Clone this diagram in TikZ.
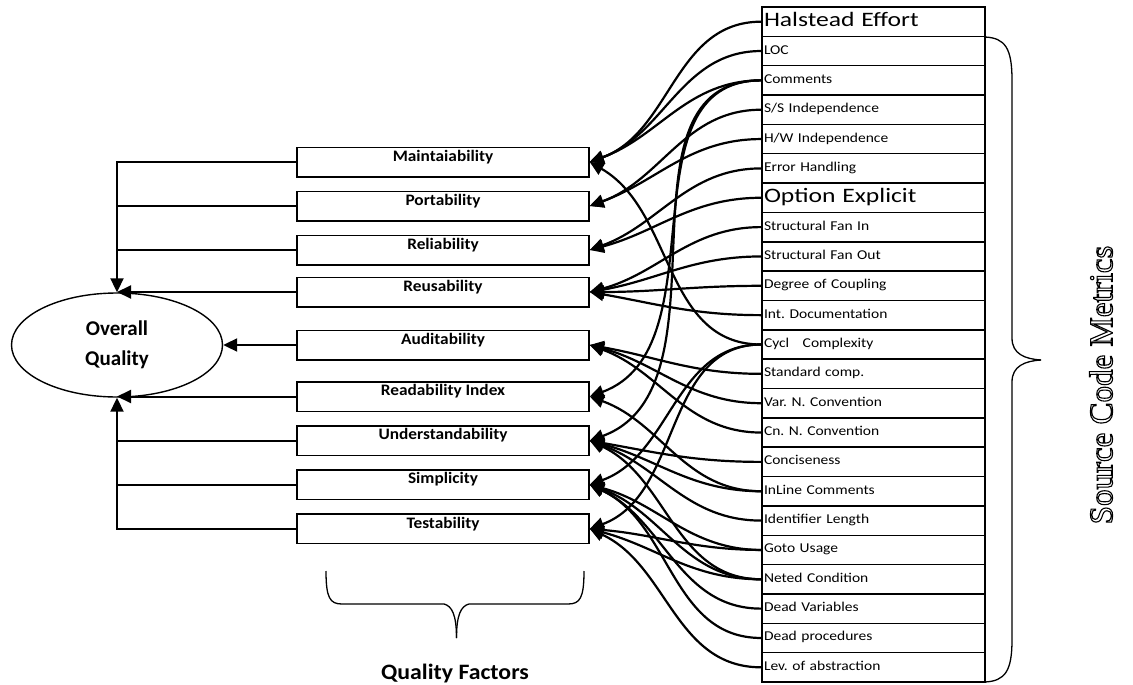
\documentclass[tikz,border=0pt]{standalone}
\usepackage{fontspec}
\setmainfont{Carlito}
\newfontfamily\mfontA[FakeStretch=1.15]{Carlito}
\newfontfamily\mfontB[FakeStretch=1.25]{Carlito}
\newfontfamily\ffont[FakeStretch=1.08]{Carlito}
\newfontfamily\scmfont{Liberation Serif}
\frenchspacing
\usetikzlibrary{arrows.meta,shapes.geometric,calc}
\begin{document}
\begin{tikzpicture}[x=1pt,y=1pt,
  mbox/.style={draw, line width=1.5pt, minimum width=223pt, minimum height=29.35pt, inner sep=0pt, text width=219pt, align=left},
  msmall/.style={font=\mfontA\fontsize{13.5}{15}\selectfont, text height=9pt, text depth=3pt},
  mbig/.style={font=\mfontB\fontsize{20.5}{22}\selectfont, text height=13pt, text depth=4pt},
  fbox/.style={draw, line width=1.5pt, minimum width=292pt, minimum height=29.5pt, inner sep=0pt, font=\ffont\bfseries\fontsize{16}{18}\selectfont, text height=14pt, text depth=15.5pt},
  conn/.style={line width=2.2pt, -{Triangle[length=14pt,width=13pt]}, out=180},
  lline/.style={line width=2pt},
  larrow/.style={line width=2pt, -{Triangle[length=14pt,width=13pt]}},
  bracestyle/.style={line width=1.3pt}
]
\useasboundingbox (0,0) rectangle (1133,-685);

% metrics column
\foreach \t/\s [count=\i] in {{Halstead Effort}/mbig, {LOC}/msmall, {Comments}/msmall, {S/S Independence}/msmall, {H/W Independence}/msmall, {Error Handling}/msmall, {Option Explicit}/mbig, {Structural Fan In}/msmall, {Structural Fan Out}/msmall, {Degree of Coupling}/msmall, {Int. Documentation}/msmall, {Cycl\ \ \ Complexity}/msmall, {Standard comp.}/msmall, {Var. N. Convention}/msmall, {Cn. N. Convention}/msmall, {Conciseness}/msmall, {InLine Comments}/msmall, {Identifier Length}/msmall, {Goto Usage}/msmall, {Neted Condition}/msmall, {Dead Variables}/msmall, {Dead procedures}/msmall, {Lev. of abstraction}/msmall}
  \node[mbox,\s] (m\i) at (873.5,{-7-29.3478*(\i-0.5)}) {\t};

% factor boxes
\node[fbox] (f1) at (443,-162) {Maintaiability};
\node[fbox] (f2) at (443,-206) {Portability};
\node[fbox] (f3) at (443,-250) {Reliability};
\node[fbox] (f4) at (443,-292) {Reusability};
\node[fbox] (f5) at (443,-345) {Auditability};
\node[fbox] (f6) at (443,-396.5) {Readability Index};
\node[fbox] (f7) at (443,-440.7) {Understandability};
\node[fbox] (f8) at (443,-484.7) {Simplicity};
\node[fbox] (f9) at (443,-528.8) {Testability};

% overall quality
\node[draw, ellipse, line width=1.4pt, minimum width=211pt, minimum height=104pt, inner sep=0pt, align=center, font=\bfseries\fontsize{21}{30}\selectfont] (oq) at (117,-345) {Overall\\Quality};

% left connectors
\draw[larrow] (f1.west) -- (f1.west -| oq.north) -- (oq.north);
\draw[lline] (f2.west) -- (f2.west -| oq.north);
\draw[lline] (f3.west) -- (f3.west -| oq.north);
\draw[larrow] (f4.west) -- (f4.west -| oq.north);
\draw[larrow] (f5.west) -- (oq.east);
\draw[larrow] (f6.west) -- (f6.west -| oq.south);
\draw[lline] (f7.west) -- (f7.west -| oq.south);
\draw[lline] (f8.west) -- (f8.west -| oq.south);
\draw[larrow] (f9.west) -- (f9.west -| oq.south) -- (oq.south);

% metric -> factor curves
\draw[conn] (m1.west) to[in=20] (f1.east);
\draw[conn] (m2.west) to[in=20] (f1.east);
\draw[conn] (m3.west) to[in=20] (f1.east);
\draw[conn] (m12.west) to[in=-30] (f1.east);
\draw[conn] (m4.west) to[in=20] (f2.east);
\draw[conn] (m5.west) to[in=20] (f2.east);
\draw[conn] (m6.west) to[in=20] (f3.east);
\draw[conn] (m7.west) to[in=15] (f3.east);
\draw[conn] (m8.west) to[in=15] (f4.east);
\draw[conn] (m9.west) to[in=10] (f4.east);
\draw[conn] (m10.west) to[in=0] (f4.east);
\draw[conn] (m11.west) to[in=-10] (f4.east);
\draw[conn] (m13.west) to[in=-10] (f5.east);
\draw[conn] (m14.west) to[in=-15] (f5.east);
\draw[conn] (m15.west) to[in=-20] (f5.east);
\draw[conn] (m3.west) to[in=20] (f6.east);
\draw[conn] (m17.west) to[in=-20] (f6.east);
\draw[conn] (m3.west) to[in=20] (f7.east);
\draw[conn] (m16.west) to[in=-10] (f7.east);
\draw[conn] (m17.west) to[in=-15] (f7.east);
\draw[conn] (m18.west) to[in=-20] (f7.east);
\draw[conn] (m20.west) to[in=-25] (f7.east);
\draw[conn] (m12.west) to[in=20] (f8.east);
\draw[conn] (m19.west) to[in=-15] (f8.east);
\draw[conn] (m20.west) to[in=-20] (f8.east);
\draw[conn] (m21.west) to[in=-25] (f8.east);
\draw[conn] (m22.west) to[in=-25] (f8.east);
\draw[conn] (m12.west) to[in=20] (f9.east);
\draw[conn] (m19.west) to[in=-5] (f9.east);
\draw[conn] (m20.west) to[in=-15] (f9.east);
\draw[conn] (m23.west) to[in=-25] (f9.east);

% bottom brace
\coordinate (bl) at (326,-571);
\coordinate (br) at (584,-571);
\coordinate (bt) at (456.5,-638);
\draw[bracestyle] (bl) .. controls (326,-598) and (330,-604) .. (342,-604) -- (444,-604)
   .. controls (452,-606) and (456.5,-615) .. (bt);
\draw[bracestyle] (br) .. controls (584,-598) and (580,-604) .. (568,-604) -- (469,-604)
   .. controls (461,-606) and (456.5,-615) .. (bt);
\node[anchor=base, font=\ffont\bfseries\fontsize{22}{24}\selectfont] (qf) at (455,-679) {Quality Factors};

% right brace
\coordinate (rt) at (985,-37);
\coordinate (rb) at (985,-682);
\coordinate (rp) at (1041,-360);
\draw[bracestyle] (rt) .. controls (1005,-38) and (1012,-48) .. (1012,-80) -- (1012,-338)
   .. controls (1012,-354) and (1025,-359) .. (rp);
\draw[bracestyle] (rb) .. controls (1005,-681) and (1012,-671) .. (1012,-640) -- (1012,-382)
   .. controls (1012,-366) and (1025,-361) .. (rp);
\node[rotate=90, font=\scmfont\fontsize{33}{35}\selectfont] (scm) at (1101,-385) {\special{pdf:literal direct 1 Tr 1.1 w}Source Code Metrics\special{pdf:literal direct 0 Tr}};
\end{tikzpicture}
\end{document}
